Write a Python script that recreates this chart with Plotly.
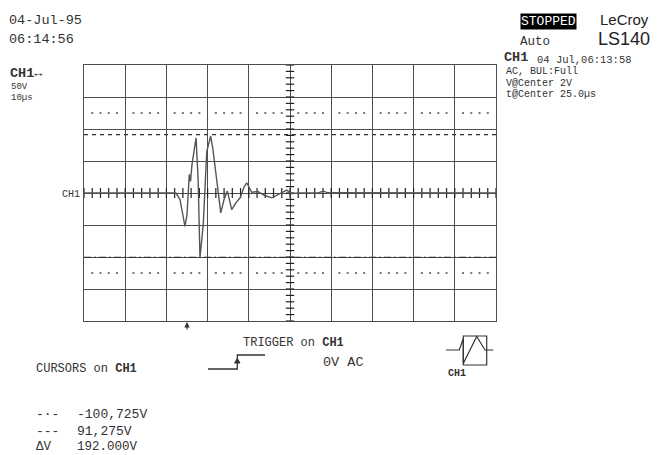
import numpy as np
import plotly.graph_objects as go

time_us = [-25, -2.7, -1.7, -0.5, 0.0, 0.55, 0.85, 1.2, 2.2, 2.7, 3.15, 3.95, 4.8, 5.2,
           5.75, 6.3, 8.2, 9.0, 9.8, 10.85, 11.9, 12.9, 13.8, 14.5, 15.7, 17.2, 18.9,
           20.6, 22.6, 24.2, 25.4, 27.4, 31.8, 33.1, 34.2, 75]
volts = [0, 0, -10, -52, -34, 29, 18, 44, 86, 21, -101, -49, 65, 76,
         89, 68, -31, -10, 3, -26, -15, -7.5, 8.6, 16, 1.2, 2.3, -3.9,
         -7.5, -0.8, 4.4, -0.8, 0, 0, 2.8, 0.3, 0]
cursor_dash = 91.275
cursor_dashdot = -100.725

x_range = [-25, 75]     # 10 us/div, center at 25 us
y_range = [-200, 200]   # 50 V/div
x_div, y_div = 10, 50

W, H = 660, 455
def PX(x): return x / W
def PY(y): return 1 - y / H

MONO = "Liberation Mono"
SANS = "Liberation Sans"
INK = "#333333"
GRID = "#4d4d4d"

fig = go.Figure()

# dotted rows at +-2.5 div
sub_x = np.arange(x_range[0], x_range[1] + 1e-9, x_div / 5)
sub_x = [v for v in sub_x if abs(((v - x_range[0]) / x_div) - round((v - x_range[0]) / x_div)) > 1e-6]
for yy in (2.5 * y_div, -2.5 * y_div):
    fig.add_trace(go.Scatter(x=sub_x, y=[yy] * len(sub_x), mode="markers",
                             marker=dict(size=2, color="#777777", symbol="square"),
                             hoverinfo="skip", showlegend=False))

# center-axis tick marks
cx = (x_range[0] + x_range[1]) / 2
tick_x = np.arange(x_range[0], x_range[1] + 1e-9, x_div / 5)
fig.add_trace(go.Scatter(x=tick_x, y=[0] * len(tick_x), mode="markers",
                         marker=dict(symbol="line-ns", size=7, line=dict(width=1.2, color="#222")),
                         hoverinfo="skip", showlegend=False))
tick_y = np.arange(y_range[0], y_range[1] + 1e-9, y_div / 5)
fig.add_trace(go.Scatter(x=[cx] * len(tick_y), y=tick_y, mode="markers",
                         marker=dict(symbol="line-ew", size=6, line=dict(width=1.2, color="#222")),
                         hoverinfo="skip", showlegend=False))

# cursors
fig.add_trace(go.Scatter(x=x_range, y=[cursor_dash] * 2, mode="lines",
                         line=dict(color=INK, width=1.2, dash="4px,4px"),
                         hoverinfo="skip", showlegend=False))
fig.add_trace(go.Scatter(x=x_range, y=[cursor_dashdot] * 2, mode="lines",
                         line=dict(color=INK, width=1.2, dash="7px,3px,2px,3px"),
                         hoverinfo="skip", showlegend=False))

# waveform
fig.add_trace(go.Scatter(x=time_us, y=volts, mode="lines",
                         line=dict(color="#555555", width=1.4),
                         hoverinfo="skip", showlegend=False))

fig.update_xaxes(range=x_range, domain=[PX(84), PX(496)], dtick=x_div, tick0=x_range[0],
                 showgrid=True, gridcolor=GRID, gridwidth=1.4, zeroline=False,
                 showline=True, mirror=True, linecolor=GRID, linewidth=1.4,
                 showticklabels=False, ticks="")
fig.update_yaxes(range=y_range, domain=[PY(321), PY(65)], dtick=y_div, tick0=y_range[0],
                 showgrid=True, gridcolor=GRID, gridwidth=1.4, zeroline=False,
                 showline=True, mirror=True, linecolor=GRID, linewidth=1.4,
                 showticklabels=False, ticks="")

ann = []
def T(x, y, text, size, anchor="left", family=MONO, color=INK, **kw):
    ann.append(dict(x=PX(x), y=PY(y), xref="paper", yref="paper", text=text,
                    showarrow=False, xanchor=anchor, yanchor="middle",
                    font=dict(family=family, size=size, color=color), **kw))

T(7, 20.5, "04-Jul-95", 13.5)
T(7, 39, "06:14:56", 13.5)
# left channel block
T(8, 74, "<b>CH1</b>↔", 13.5)
T(9, 87, "50V", 9)
T(9, 97.5, "10µs", 9)
T(548, 21, "STOPPED", 13, anchor="center", color="white", bgcolor="black", borderpad=0)
T(624, 20, "LeCroy", 15, anchor="center", family=SANS, color="#222")
T(624, 38.5, "LS140", 18, anchor="center", family=SANS, color="#222")
T(535, 42, "Auto", 12.5, anchor="center")
# right channel block
T(502, 58, "<b>CH1</b>", 13.5)
T(535, 60, "04 Jul,06:13:58", 10.5)
T(504, 71.5, "AC, BUL:Full", 10)
T(504, 83, "V@Center 2V", 10)
T(504, 94.5, "t@Center 25.0µs", 10)
T(82, 194, "CH1", 10, anchor="right")
T(241, 342.5, "TRIGGER on <b>CH1</b>", 12)
T(321, 362.5, "0V AC", 13.5)
T(456.7, 373.5, "<b>CH1</b>", 10, anchor="center")
T(34, 369, "CURSORS on <b>CH1</b>", 12)
T(34, 414, "-·-", 13)
T(75, 414, "-100,725V", 13)
T(34, 431, "---", 13)
T(75, 431, "91,275V", 13)
T(34, 446.5, "ΔV", 12.5)
T(75, 446.5, "192.000V", 12.5)

# trigger position arrow below the grid at t = 0
ann.append(dict(x=0, y=PY(322), xref="x", yref="paper", ax=0, ay=9, axref="pixel",
                ayref="pixel", text="", showarrow=True, arrowhead=2, arrowsize=0.9,
                arrowwidth=1.2, arrowcolor=INK))

def path(pts):
    return "M " + " L ".join(f"{PX(a):.5f},{PY(b):.5f}" for a, b in pts)

shapes = [
    dict(type="path", xref="paper", yref="paper",
         path=path([(208, 369), (237.3, 369), (237.3, 355), (265, 355)]),
         line=dict(color=INK, width=1.3)),
    dict(type="path", xref="paper", yref="paper",
         path=path([(234.6, 363), (237.3, 358.5), (240, 363)]) + " Z",
         line=dict(color=INK, width=1), fillcolor=INK),
    dict(type="rect", xref="paper", yref="paper",
         x0=PX(463.3), x1=PX(486.7), y0=PY(365), y1=PY(336),
         line=dict(color=INK, width=1.2)),
    dict(type="path", xref="paper", yref="paper",
         path=path([(446, 350), (459.3, 350), (463.3, 338.5), (463.3, 363.5),
                    (476.7, 336.5), (485, 350), (493.3, 350)]),
         line=dict(color=INK, width=1.2)),
]

fig.update_layout(width=W, height=H, autosize=False,
                  margin=dict(l=0, r=0, t=0, b=0),
                  paper_bgcolor="white", plot_bgcolor="white",
                  annotations=ann, shapes=shapes, showlegend=False)

fig.write_html("out.html")
